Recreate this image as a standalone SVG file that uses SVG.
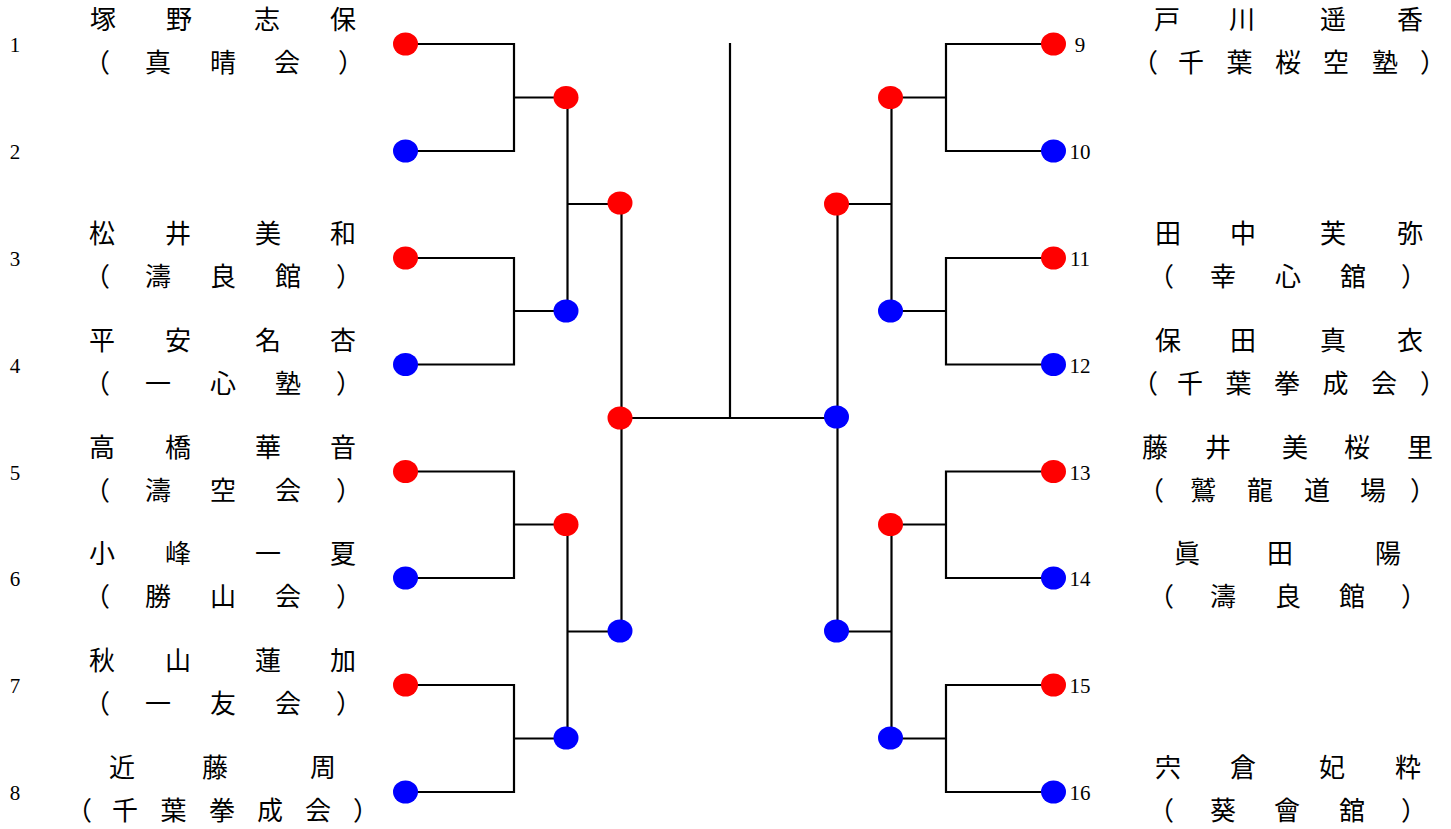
<svg xmlns="http://www.w3.org/2000/svg" width="1451" height="829" viewBox="0 0 1451 829">
<style>
.bg{fill:#ffffff}
.ln{fill:none;stroke:#000000;stroke-width:2.2;stroke-linecap:square}
.r{fill:#ff0000}
.b{fill:#0000ff}
.num{font-family:"Liberation Serif",serif;font-size:21px;fill:#000;text-anchor:middle}
.nm{font-family:"Noto Sans CJK JP",sans-serif;font-size:26px;fill:#000;text-anchor:middle}
</style>
<rect class="bg" x="0" y="0" width="1451" height="829"/>
<g id="connectors">
<path class="ln" d="M405 44H514V151H405M514 97.5H566"/>
<path class="ln" d="M405 258H514V364.5H405M514 311H566"/>
<path class="ln" d="M405 471.5H514V578H405M514 524.5H566"/>
<path class="ln" d="M405 685H514V792H405M514 738.5H566"/>
<path class="ln" d="M567.5 97.5V311M567.5 204H620"/>
<path class="ln" d="M567.5 524.5V738.5M567.5 631.5H620"/>
<path class="ln" d="M621.5 204V631.5M620 418H837"/>
<path class="ln" d="M730 44V418"/>
<path class="ln" d="M1053 44H946V151H1053M946 97.5H891"/>
<path class="ln" d="M1053 258H946V364.5H1053M946 311H891"/>
<path class="ln" d="M1053 471.5H946V578H1053M946 524.5H891"/>
<path class="ln" d="M1053 685H946V792H1053M946 738.5H891"/>
<path class="ln" d="M891.5 97.5V311M891.5 204H837"/>
<path class="ln" d="M891.5 524.5V738.5M891.5 631.5H837"/>
<path class="ln" d="M837.5 204V631.5"/>
</g>
<g id="rounds">
<ellipse class="r" cx="566" cy="97.5" rx="12.5" ry="11.5"/>
<ellipse class="b" cx="566" cy="311" rx="12.5" ry="11.5"/>
<ellipse class="r" cx="566" cy="524.5" rx="12.5" ry="11.5"/>
<ellipse class="b" cx="566" cy="738" rx="12.5" ry="11.5"/>
<ellipse class="r" cx="620" cy="203" rx="12.5" ry="11.5"/>
<ellipse class="b" cx="620" cy="631" rx="12.5" ry="11.5"/>
<ellipse class="r" cx="620" cy="418" rx="12.5" ry="11.5"/>
<ellipse class="r" cx="890.5" cy="97.5" rx="12.5" ry="11.5"/>
<ellipse class="b" cx="890.5" cy="311" rx="12.5" ry="11.5"/>
<ellipse class="r" cx="890.5" cy="524.5" rx="12.5" ry="11.5"/>
<ellipse class="b" cx="890.5" cy="738" rx="12.5" ry="11.5"/>
<ellipse class="r" cx="836.5" cy="204" rx="12.5" ry="11.5"/>
<ellipse class="b" cx="836.5" cy="631" rx="12.5" ry="11.5"/>
<ellipse class="b" cx="836.5" cy="417" rx="12.5" ry="11.5"/>
</g>
<g id="p1"><ellipse class="r" cx="405.5" cy="44" rx="12.5" ry="11.5"/><text class="num" x="15" y="52">1</text>
<text class="nm" x="103 179 267 343" y="29">塚野志保</text>
<text class="nm" x="97 158 223 287 351" y="72">（真晴会）</text></g>
<g id="p2"><ellipse class="b" cx="405.5" cy="151" rx="12.5" ry="11.5"/><text class="num" x="15" y="159">2</text></g>
<g id="p3"><ellipse class="r" cx="405.5" cy="258" rx="12.5" ry="11.5"/><text class="num" x="15" y="266">3</text>
<text class="nm" x="102 178 268 343" y="243">松井美和</text>
<text class="nm" x="97 158 223 288 349" y="286">（濤良館）</text></g>
<g id="p4"><ellipse class="b" cx="405.5" cy="364.5" rx="12.5" ry="11.5"/><text class="num" x="15" y="372.5">4</text>
<text class="nm" x="102 178 268 343" y="349.5">平安名杏</text>
<text class="nm" x="97 158 223 288 349" y="392.5">（一心塾）</text></g>
<g id="p5"><ellipse class="r" cx="405.5" cy="471.5" rx="12.5" ry="11.5"/><text class="num" x="15" y="479.5">5</text>
<text class="nm" x="102 178 268 343" y="456.5">高橋華音</text>
<text class="nm" x="97 158 223 288 349" y="499.5">（濤空会）</text></g>
<g id="p6"><ellipse class="b" cx="405.5" cy="578" rx="12.5" ry="11.5"/><text class="num" x="15" y="586">6</text>
<text class="nm" x="102 178 268 343" y="563">小峰一夏</text>
<text class="nm" x="97 158 223 288 349" y="606">（勝山会）</text></g>
<g id="p7"><ellipse class="r" cx="405.5" cy="685" rx="12.5" ry="11.5"/><text class="num" x="15" y="693">7</text>
<text class="nm" x="102 178 268 343" y="670">秋山蓮加</text>
<text class="nm" x="97 158 223 288 349" y="713">（一友会）</text></g>
<g id="p8"><ellipse class="b" cx="405.5" cy="792" rx="12.5" ry="11.5"/><text class="num" x="15" y="800">8</text>
<text class="nm" x="122 215 323" y="777">近藤周</text>
<text class="nm" x="79 125 173.5 222 270 318 366" y="820">（千葉拳成会）</text></g>
<g id="p9"><ellipse class="r" cx="1053.5" cy="44" rx="12.5" ry="11.5"/><text class="num" x="1080" y="52">9</text>
<text class="nm" x="1167 1242 1333 1410" y="29">戸川遥香</text>
<text class="nm" x="1145 1191 1239.5 1288 1336 1385 1433" y="72">（千葉桜空塾）</text></g>
<g id="p10"><ellipse class="b" cx="1053.5" cy="151" rx="12.5" ry="11.5"/><text class="num" x="1080" y="159">10</text></g>
<g id="p11"><ellipse class="r" cx="1053.5" cy="258" rx="12.5" ry="11.5"/><text class="num" x="1080" y="266">11</text>
<text class="nm" x="1168 1243 1333 1410" y="243">田中芙弥</text>
<text class="nm" x="1161 1223 1288 1353 1414" y="286">（幸心舘）</text></g>
<g id="p12"><ellipse class="b" cx="1053.5" cy="364.5" rx="12.5" ry="11.5"/><text class="num" x="1080" y="372.5">12</text>
<text class="nm" x="1168 1243 1333 1410" y="349.5">保田真衣</text>
<text class="nm" x="1145 1190 1238.5 1287 1335.5 1384 1433" y="392.5">（千葉拳成会）</text></g>
<g id="p13"><ellipse class="r" cx="1053.5" cy="471.5" rx="12.5" ry="11.5"/><text class="num" x="1080" y="479.5">13</text>
<text class="nm" x="1155 1218 1295 1357 1420" y="456.5">藤井美桜里</text>
<text class="nm" x="1151 1203 1260 1317 1373 1423" y="499.5">（鷲龍道場）</text></g>
<g id="p14"><ellipse class="b" cx="1053.5" cy="578" rx="12.5" ry="11.5"/><text class="num" x="1080" y="586">14</text>
<text class="nm" x="1187 1280 1388" y="563">眞田陽</text>
<text class="nm" x="1161 1223 1288 1352 1414" y="606">（濤良館）</text></g>
<g id="p15"><ellipse class="r" cx="1053.5" cy="685" rx="12.5" ry="11.5"/><text class="num" x="1080" y="693">15</text></g>
<g id="p16"><ellipse class="b" cx="1053.5" cy="792" rx="12.5" ry="11.5"/><text class="num" x="1080" y="800">16</text>
<text class="nm" x="1168 1243 1332 1408" y="777">宍倉妃粋</text>
<text class="nm" x="1161 1223 1287 1352 1414" y="820">（葵會舘）</text></g>
</svg>
